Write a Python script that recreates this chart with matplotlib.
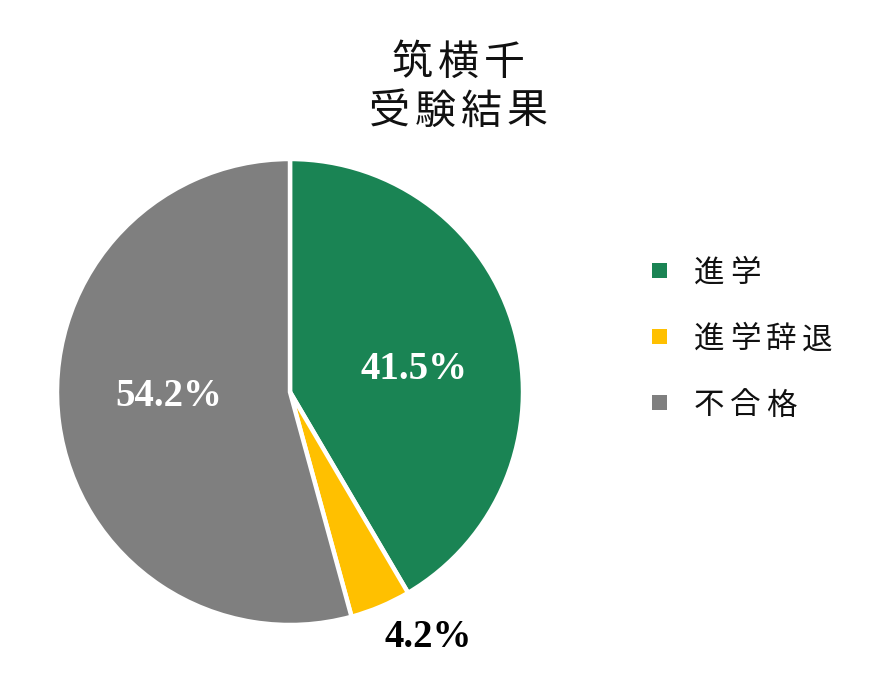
import matplotlib
matplotlib.use("Agg")
import matplotlib.pyplot as plt
import numpy as np
from matplotlib.patches import Rectangle

title_lines = ["筑横千", "受験結果"]
categories = ["進学", "進学辞退", "不合格"]
values = [41.5, 4.2, 54.2]
colors = ["#1a8454", "#ffc000", "#7f7f7f"]

W, H = 877, 682
fig = plt.figure(figsize=(W / 100, H / 100), dpi=100)

cx, cy, r = 290, 392, 233
ax = fig.add_axes([(cx - r) / W, (H - cy - r) / H, 2 * r / W, 2 * r / H])
wedges, texts, autotexts = ax.pie(
    values, colors=colors, startangle=90, counterclock=False,
    autopct=lambda p: f"{p:.1f}%", pctdistance=0.53, radius=1,
    wedgeprops=dict(edgecolor="white", linewidth=3.2),
    textprops=dict(family="Liberation Serif", fontweight="bold", fontsize=28, color="white"),
)
ax.set_xlim(-1, 1)
ax.set_ylim(-1, 1)
ax.set_aspect("auto")
ax.axis("off")

# label placement (radius, angle nudge in degrees) per slice
label_place = [(0.54, -5.0), (1.21, 6.5), (0.52, -5.5)]
for t, v, w, (rad, dang) in zip(autotexts, values, wedges, label_place):
    t.set_text(f"{v:.1f}%")
    mid = np.deg2rad((w.theta1 + w.theta2) / 2 + dang)
    t.set_position((rad * np.cos(mid), rad * np.sin(mid)))
autotexts[1].set_color("black")


def spaced(x, y, s, pitch, size, **kw):
    for i, ch in enumerate(s):
        fig.text((x + i * pitch) / W, 1 - y / H, ch, fontsize=size,
                 family="Noto Sans CJK JP", ha="center", va="center", **kw)


# title
for line, yy in zip(title_lines, [63, 112]):
    n = len(line)
    pitch = 46
    x0 = 458 - pitch * (n - 1) / 2
    spaced(x0, yy, line, pitch, 29.5, color="#111111")

# legend
for i, (lab, col) in enumerate(zip(categories, colors)):
    yy = 271 + i * 66
    fig.patches.append(Rectangle(((652) / W, 1 - (yy + 7) / H), 15 / W, 15 / H,
                                 transform=fig.transFigure, facecolor=col, edgecolor="none"))
    spaced(709, yy + 3, lab, 36, 22, color="#111111")

fig.savefig("out.png", dpi=100)
